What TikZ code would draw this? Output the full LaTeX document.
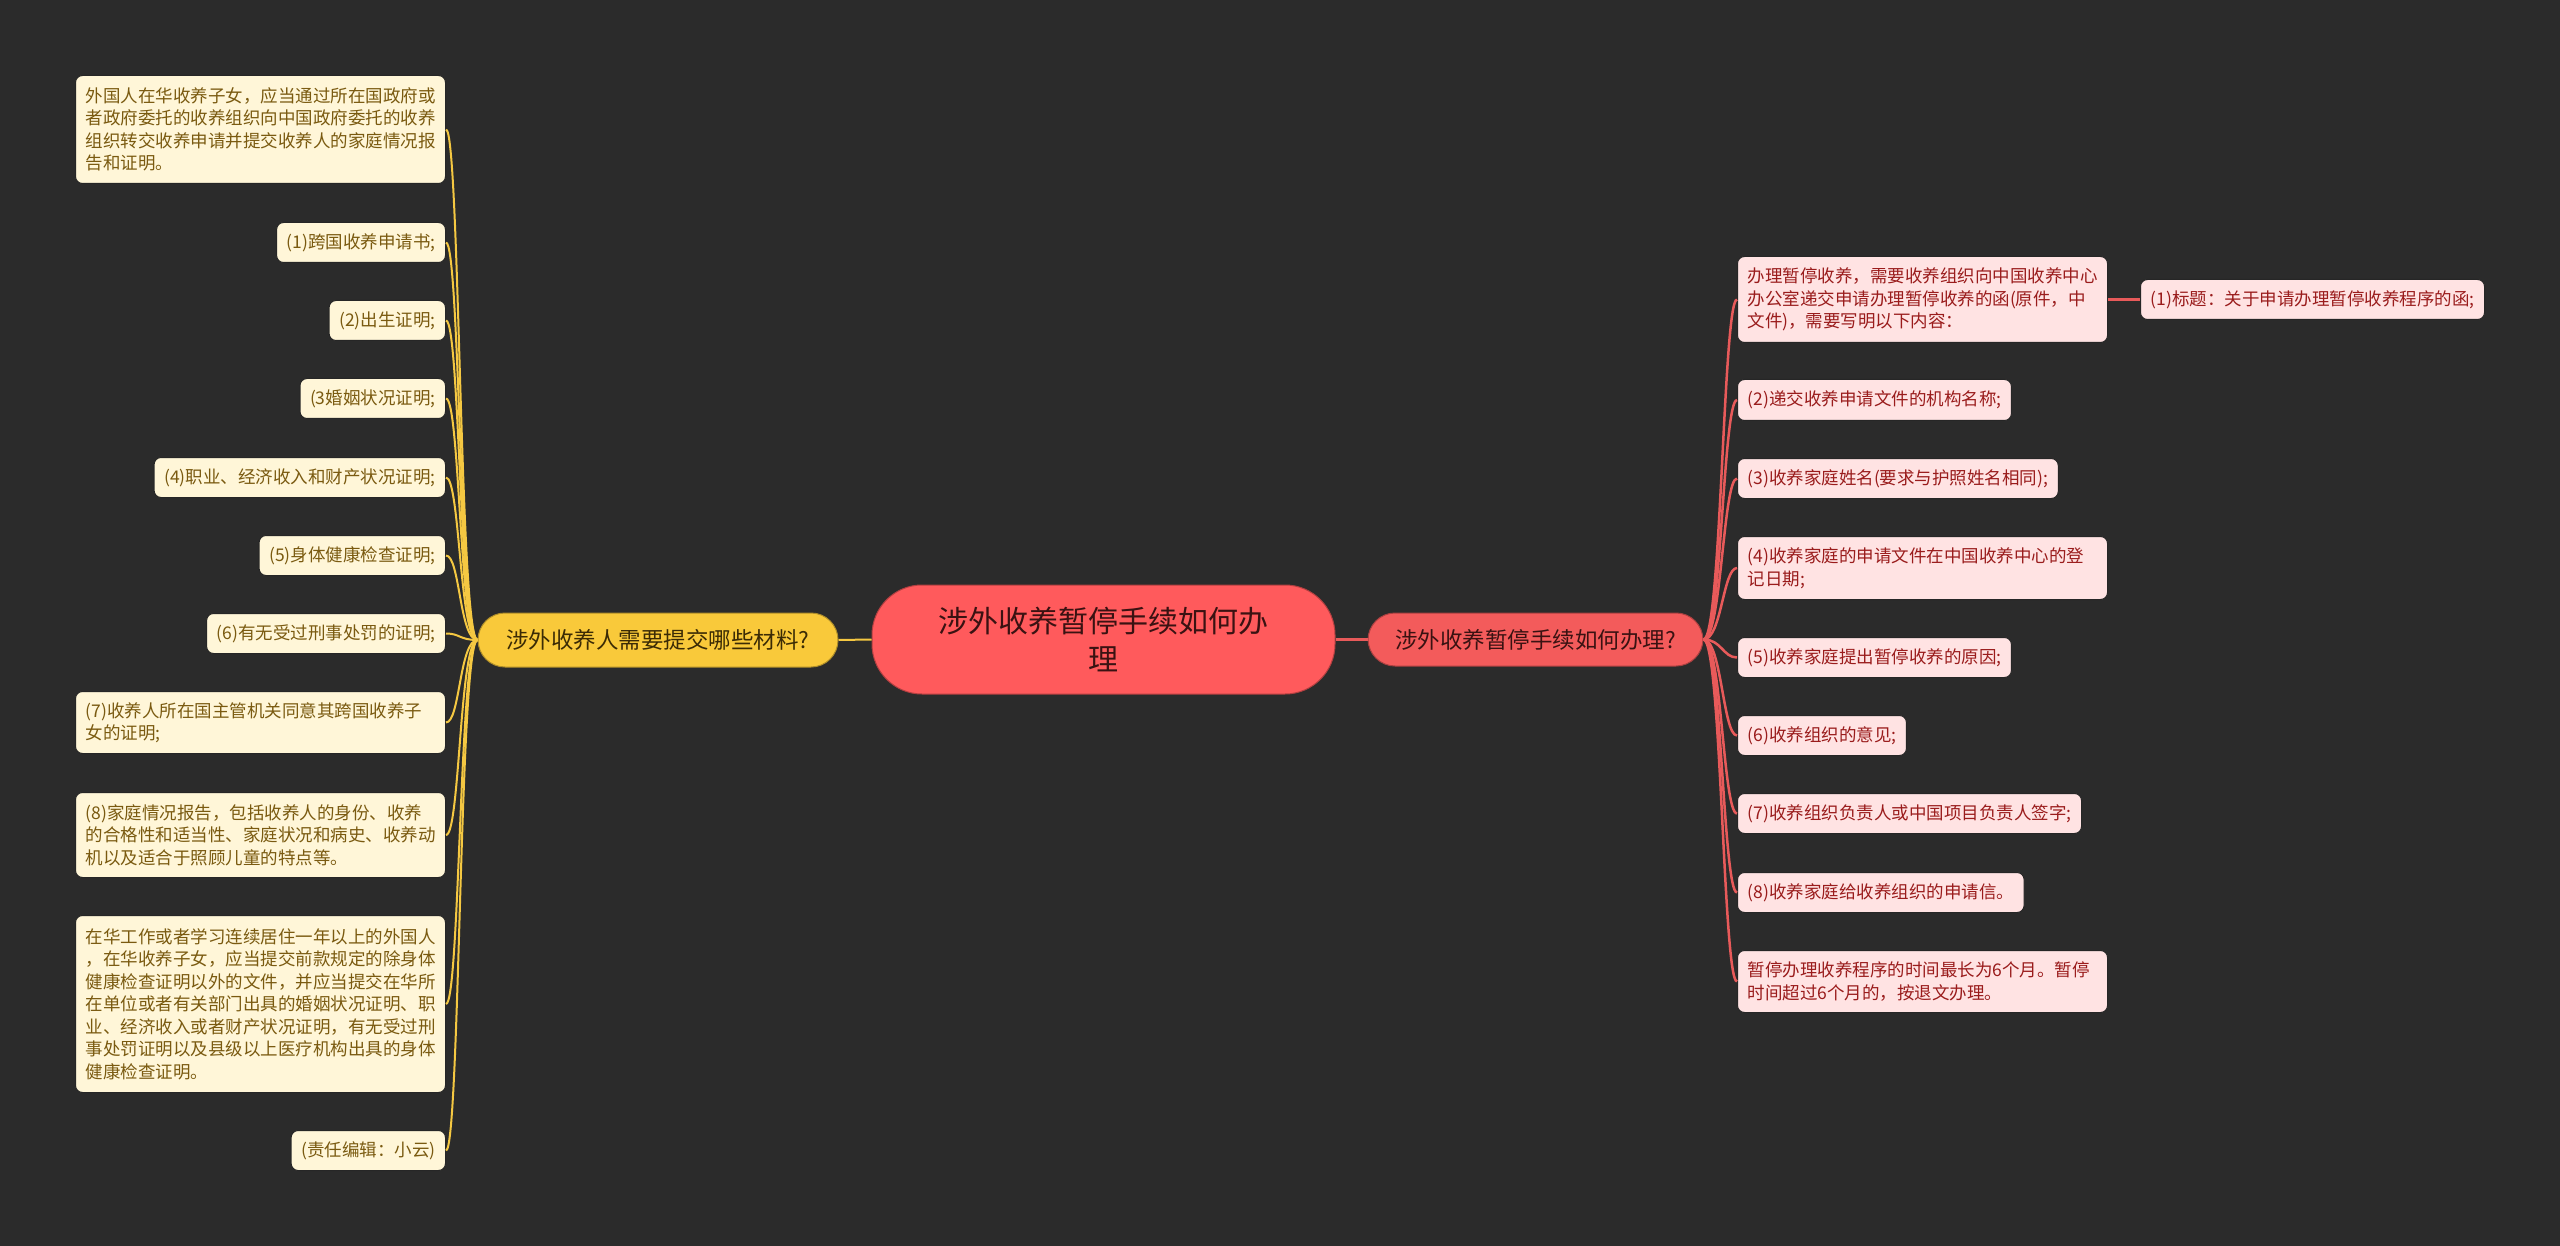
\documentclass[tikz,border=0pt]{standalone}
\usepackage{fontspec}
\newfontfamily\cjk{Noto Sans CJK SC}
\definecolor{bg}{HTML}{2B2B2B}
\definecolor{yline}{HTML}{F5C842}
\definecolor{rline}{HTML}{E85A5A}
\definecolor{lfill}{HTML}{FFF6D8}
\definecolor{ltext}{HTML}{7A5A10}
\definecolor{rfill}{HTML}{FFE3E3}
\definecolor{rtext}{HTML}{9A1C1C}
\definecolor{cfill}{HTML}{FF5A5C}
\definecolor{ctext}{HTML}{3A1212}
\definecolor{ymain}{HTML}{F9C93A}
\definecolor{ymaintext}{HTML}{3B2B05}
\definecolor{rmain}{HTML}{F35B5B}
\tikzset{
  leafbase/.style={font=\cjk\fontsize{17.5}{22.5}\selectfont, rounded corners=7pt, inner xsep=10pt, inner ysep=0pt, align=left, draw=black!85, line width=1pt},
  lleaf/.style={leafbase, fill=lfill, text=ltext, anchor=north east},
  rleaf/.style={leafbase, fill=rfill, text=rtext, anchor=north west},
  multi/.style={text width=350pt},
  ylink/.style={draw=yline, line width=2pt},
  rlink/.style={draw=rline, line width=2.5pt},
}
\begin{document}
\begin{tikzpicture}[x=1pt,y=-1pt]
\useasboundingbox[fill=bg] (0,0) rectangle (2560,1246);

% central and main nodes
\node[fill=cfill, draw=cfill!70!black, line width=1pt, rounded corners=50pt, minimum width=463pt, minimum height=109pt, text=ctext, align=center, font=\cjk\fontsize{30}{38}\selectfont] (c) at (1103.5,639.5) {涉外收养暂停手续如何办\\理};
\node[fill=ymain, draw=ymain!70!black, line width=1pt, rounded corners=27pt, minimum width=360pt, minimum height=54pt, text=ymaintext, font=\cjk\fontsize{22.5}{27}\selectfont] (lm) at (658,640) {涉外收养人需要提交哪些材料?};
\node[fill=rmain, draw=rmain!70!black, line width=1pt, rounded corners=27pt, minimum width=335pt, minimum height=53pt, text=ctext, font=\cjk\fontsize{22.5}{27}\selectfont] (rm) at (1535.5,639.5) {涉外收养暂停手续如何办理?};

% left leaves
\node[lleaf, multi, minimum height=108pt] (l0) at (446,75) {外国人在华收养子女，应当通过所在国政府或\\者政府委托的收养组织向中国政府委托的收养\\组织转交收养申请并提交收养人的家庭情况报\\告和证明。};
\node[lleaf, minimum width=168pt, minimum height=40pt] (l1) at (446,222) {(1)跨国收养申请书;};
\node[lleaf, minimum width=114pt, minimum height=40pt] (l2) at (446,300) {(2)出生证明;};
\node[lleaf, minimum width=144pt, minimum height=40pt] (l3) at (446,378) {(3婚姻状况证明;};
\node[lleaf, minimum width=290pt, minimum height=40pt] (l4) at (446,457) {(4)职业、经济收入和财产状况证明;};
\node[lleaf, minimum width=185pt, minimum height=40pt] (l5) at (446,535) {(5)身体健康检查证明;};
\node[lleaf, minimum width=238pt, minimum height=40pt] (l6) at (446,613) {(6)有无受过刑事处罚的证明;};
\node[lleaf, multi, minimum height=62pt] (l7) at (446,691) {(7)收养人所在国主管机关同意其跨国收养子\\女的证明;};
\node[lleaf, multi, minimum height=85pt] (l8) at (446,792) {(8)家庭情况报告，包括收养人的身份、收养\\的合格性和适当性、家庭状况和病史、收养动\\机以及适合于照顾儿童的特点等。};
\node[lleaf, multi, minimum height=177pt] (l9) at (446,915) {在华工作或者学习连续居住一年以上的外国人\\，在华收养子女，应当提交前款规定的除身体\\健康检查证明以外的文件，并应当提交在华所\\在单位或者有关部门出具的婚姻状况证明、职\\业、经济收入或者财产状况证明，有无受过刑\\事处罚证明以及县级以上医疗机构出具的身体\\健康检查证明。};
\node[lleaf, minimum width=153pt, minimum height=40pt] (l10) at (446,1130) {(责任编辑：小云)};

% right leaves
\node[rleaf, multi, minimum height=86pt] (r0) at (1737,256) {办理暂停收养，需要收养组织向中国收养中心\\办公室递交申请办理暂停收养的函(原件，中\\文件)，需要写明以下内容：};
\node[rleaf, minimum width=344pt, minimum height=40pt] (r0a) at (2140,279) {(1)标题：关于申请办理暂停收养程序的函;};
\node[rleaf, minimum width=273pt, minimum height=41pt] (r1) at (1737,379) {(2)递交收养申请文件的机构名称;};
\node[rleaf, minimum width=320pt, minimum height=40pt] (r2) at (1737,458) {(3)收养家庭姓名(要求与护照姓名相同);};
\node[rleaf, multi, minimum height=63pt] (r3) at (1737,536) {(4)收养家庭的申请文件在中国收养中心的登\\记日期;};
\node[rleaf, minimum width=273pt, minimum height=40pt] (r4) at (1737,637) {(5)收养家庭提出暂停收养的原因;};
\node[rleaf, minimum width=167pt, minimum height=40pt] (r5) at (1737,715) {(6)收养组织的意见;};
\node[rleaf, minimum width=344pt, minimum height=40pt] (r6) at (1737,793) {(7)收养组织负责人或中国项目负责人签字;};
\node[rleaf, minimum width=286pt, minimum height=40pt] (r7) at (1737,872) {(8)收养家庭给收养组织的申请信。};
\node[rleaf, multi, minimum height=62pt] (r8) at (1737,950) {暂停办理收养程序的时间最长为6个月。暂停\\时间超过6个月的，按退文办理。};

% connectors
\begin{scope}[on background layer/.try]
\end{scope}
\draw[ylink] (lm.east) -- (c.west);
\draw[rlink] (c.east) -- (rm.west);
\foreach \n in {l0,l1,l2,l3,l4,l5,l6,l7,l8,l9,l10}
  \draw[ylink] (lm.west) .. controls +(-18,0) and +(14,0) .. (\n.east);
\foreach \n in {r0,r1,r2,r3,r4,r5,r6,r7,r8}
  \draw[rlink] (rm.east) .. controls +(18,0) and +(-14,0) .. (\n.west);
\draw[rlink] (r0.east) -- (r0a.west);
\end{tikzpicture}
\end{document}
